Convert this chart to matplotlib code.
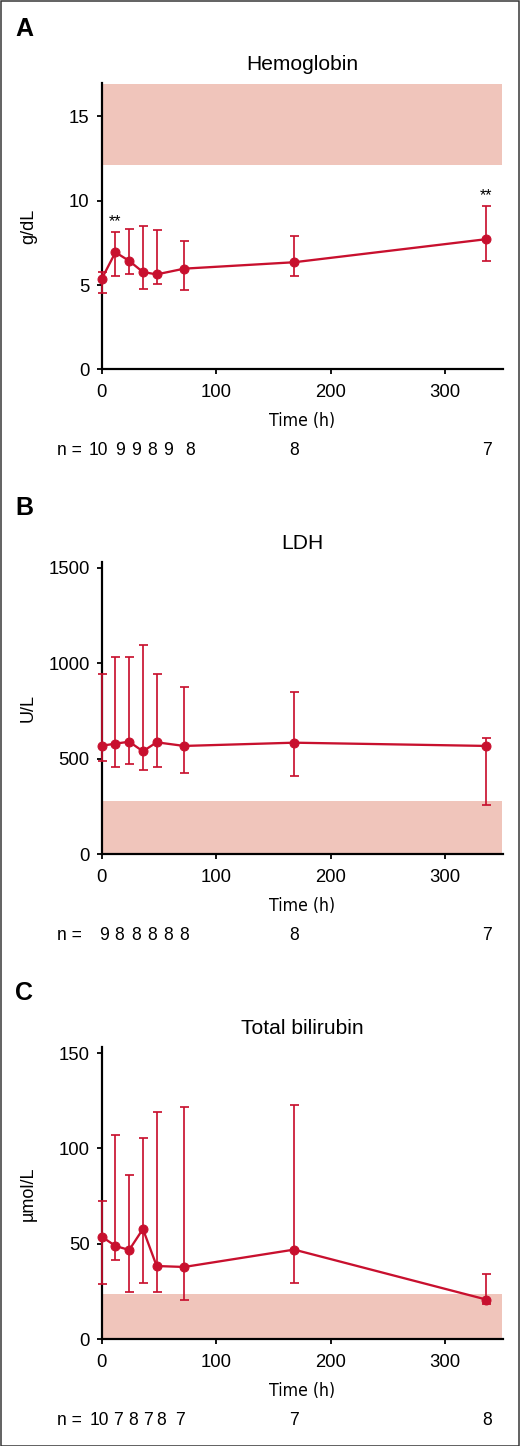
import matplotlib
matplotlib.use('Agg')
import matplotlib.pyplot as plt
from matplotlib.patches import Rectangle

# ---------------- data ----------------
times = [0, 12, 24, 36, 48, 72, 168, 336]

hb_mean = [5.36, 6.94, 6.43, 5.77, 5.63, 5.97, 6.35, 7.72]
hb_upper = [5.75, 8.13, 8.35, 8.49, 8.29, 7.62, 7.90, 9.66]
hb_lower = [4.54, 5.55, 5.63, 4.78, 5.06, 4.70, 5.52, 6.45]
hb_n = ['10', '9', '9', '8', '9', '8', '8', '7']
hb_ref = (12.1, 16.9)
hb_sig = [12, 336]

ldh_mean = [568, 579, 589, 539, 586, 567, 584, 567]
ldh_upper = [942, 1032, 1032, 1095, 942, 876, 849, 610]
ldh_lower = [488, 457, 474, 441, 455, 424, 410, 258]
ldh_n = ['9', '8', '8', '8', '8', '8', '8', '7']
ldh_ref = (0, 279)

bil_mean = [53.8, 48.9, 46.8, 57.8, 38.4, 37.9, 47.0, 20.8]
bil_upper = [72.6, 107.0, 85.9, 105.6, 118.9, 121.9, 122.6, 34.2]
bil_lower = [29.0, 41.7, 24.6, 29.7, 25.0, 20.8, 29.7, 18.3]
bil_n = ['10', '7', '8', '7', '8', '7', '7', '8']
bil_ref = (0, 23.6)

titles = ['Hemoglobin', 'LDH', 'Total bilirubin']
ylabels = ['g/dL', 'U/L', '\u00b5mol/L']
panel_letters = ['A', 'B', 'C']
yticks = [[0, 5, 10, 15], [0, 500, 1000, 1500], [0, 50, 100, 150]]
ylims = [17.0, 1531, 153]
xticks = [0, 100, 200, 300]

# ---------------- layout (pixels) ----------------
W, H = 520, 1446
DPI = 72
RED = '#C8102E'
BAND = '#F0C5BB'
plt.rcParams['font.family'] = ['Liberation Sans', 'DejaVu Sans']

fig = plt.figure(figsize=(W / DPI, H / DPI), dpi=DPI)
fig.patch.set_facecolor('white')

ax_left, ax_right = 101.7, 503.3
ax_tb = [(82.7, 369.3), (561.7, 854.3), (1047.3, 1339.3)]
letter_y = [29, 508, 993]
npos_px = [[98, 120, 136, 152, 168, 190, 294, 487],
           [104, 119, 136, 152, 168, 184, 294, 487],
           [99, 118, 133, 148, 161, 180, 294, 487]]
xmax = 350.7
px_per_h = (ax_right - ax_left) / xmax

datasets = [
    (hb_mean, hb_upper, hb_lower, hb_n, hb_ref),
    (ldh_mean, ldh_upper, ldh_lower, ldh_n, ldh_ref),
    (bil_mean, bil_upper, bil_lower, bil_n, bil_ref),
]

for i, (mean, up, lo, ns, ref) in enumerate(datasets):
    top, bot = ax_tb[i]
    ax = fig.add_axes([ax_left / W, (H - bot) / H,
                       (ax_right - ax_left) / W, (bot - top) / H])
    ax.set_xlim(0, xmax)
    ax.set_ylim(0, ylims[i])
    ax.fill_between([0.8, 350], ref[0], ref[1], color=BAND, lw=0, zorder=1)
    yerr = [[m - l for m, l in zip(mean, lo)], [u - m for m, u in zip(mean, up)]]
    ax.errorbar(times, mean, yerr=yerr, fmt='none', ecolor=RED,
                elinewidth=1.7, capsize=4.5, capthick=1.7, zorder=3,
                clip_on=False)
    ax.plot(times, mean, color=RED, lw=2.3, marker='o', ms=9,
            zorder=4, clip_on=False)

    for s in ['top', 'right']:
        ax.spines[s].set_visible(False)
    for s in ['left', 'bottom']:
        ax.spines[s].set_linewidth(2.2)
        ax.spines[s].set_zorder(2)
    ax.set_xticks(xticks)
    ax.set_yticks(yticks[i])
    ax.tick_params(axis='both', direction='out', length=5, width=1.8,
                   labelsize=18.5, colors='black')
    ax.tick_params(axis='x', pad=10)
    ax.tick_params(axis='y', pad=7)

    ax.set_title(titles[i], fontsize=21, pad=13)

    ax.annotate('Time (h)', xy=(0.5, 0), xycoords='axes fraction',
                xytext=(0, -52), textcoords='offset points',
                ha='center', va='center', fontsize=17.5,
                family=['DejaVu Sans'], fontstretch='condensed',
                annotation_clip=False)

    # n row
    ax.annotate('n =', xy=(0, 0), xycoords='axes fraction',
                xytext=(57 - ax_left, -81), textcoords='offset points',
                ha='left', va='center', fontsize=17.5, annotation_clip=False)
    for s, px in zip(ns, npos_px[i]):
        ax.annotate(s, xy=((px - ax_left) / px_per_h, 0),
                    xycoords=('data', 'axes fraction'),
                    xytext=(0, -81), textcoords='offset points',
                    ha='center', va='center', fontsize=17.5,
                    annotation_clip=False)

    # y label
    fig.text(28.5 / W, (H - (top + bot) / 2) / H, ylabels[i], rotation=90,
             ha='center', va='center', fontsize=18)
    # panel letter
    fig.text(24.5 / W, (H - letter_y[i]) / H, panel_letters[i],
             ha='center', va='center', fontsize=25, fontweight='bold')

    if i == 0:
        for t in hb_sig:
            k = times.index(t)
            ax.annotate('**', xy=(t, up[k]), xytext=(0, 3),
                        textcoords='offset points', ha='center', va='bottom',
                        fontsize=16, annotation_clip=False)

# figure border
fig.patches.append(Rectangle((0.5 / W, 0.5 / H), (W - 1.5) / W, (H - 1.5) / H,
                             transform=fig.transFigure, fill=False,
                             edgecolor='#333333', lw=1.5))

fig.savefig('out.png', dpi=DPI)
